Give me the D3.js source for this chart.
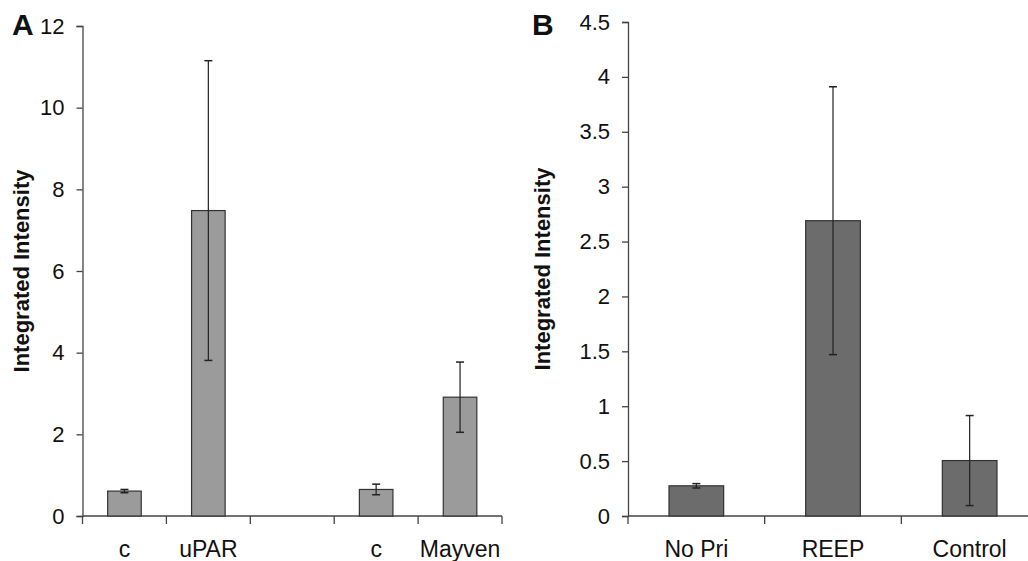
<!DOCTYPE html>
<html><head><meta charset="utf-8">
<script src="https://cdn.jsdelivr.net/npm/d3@7"></script>
<style>body{margin:0;background:#fff}svg{display:block;font-family:"Liberation Sans",Arial,sans-serif}</style>
</head><body><svg id="c" width="1028" height="561"></svg>
<script>
// Panel A data
const catsA = ["c1", "uPAR", "gap", "c2", "Mayven"];
const labelsA = ["c", "uPAR", "", "c", "Mayven"];
const valuesA = [0.61, 7.48, null, 0.65, 2.91];
const errorsA = [0.04, 3.67, null, 0.13, 0.86];
const ticksA = [0, 2, 4, 6, 8, 10, 12];
// Panel B data
const catsB = ["No Pri", "REEP", "Control"];
const valuesB = [0.275, 2.69, 0.505];
const errorsB = [0.02, 1.22, 0.41];
const ticksB = [0, 0.5, 1, 1.5, 2, 2.5, 3, 3.5, 4, 4.5];

const svg = d3.select("#c");

function panel(o){
  const g = svg.append("g");
  const x = d3.scaleBand().domain(o.cats).range([o.x0, o.x1]).paddingInner(0).paddingOuter(0);
  const y = d3.scaleLinear().domain([0, o.ymax]).range([o.y0, o.y1]);
  const bw = x.bandwidth()*0.4;
  // y axis
  const ya = g.append("g").attr("transform",`translate(${o.x0},0)`)
    .call(d3.axisLeft(y).tickValues(o.ticks).tickSize(6).tickPadding(12).tickFormat(d=>String(d)));
  ya.select(".domain").attr("stroke","#444").attr("stroke-width",1.3);
  ya.selectAll(".tick line").attr("stroke","#444").attr("stroke-width",1.3);
  ya.selectAll("text").attr("font-size",22).attr("fill","#111").attr("font-family","Liberation Sans, Arial, sans-serif");
  // x axis
  const xa = g.append("g").attr("transform",`translate(0,${o.y0})`);
  xa.append("line").attr("x1",o.x0).attr("x2",o.x1).attr("y1",0).attr("y2",0).attr("stroke","#444").attr("stroke-width",1.3);
  const edges = o.cats.map(c=>x(c)).concat([o.x1]);
  xa.selectAll("line.t").data(edges).enter().append("line").attr("class","t")
    .attr("x1",d=>d).attr("x2",d=>d).attr("y1",0).attr("y2",8).attr("stroke","#444").attr("stroke-width",1.3);
  xa.selectAll("text").data(o.cats).enter().append("text")
    .attr("x",d=>x(d)+x.bandwidth()/2).attr("y",41).attr("text-anchor","middle")
    .attr("font-size",23).attr("fill","#111").text((d,i)=>o.labels[i]);
  // bars
  const data = o.cats.map((c,i)=>({c,v:o.values[i],e:o.errors[i]})).filter(d=>d.v!=null);
  g.selectAll("rect.bar").data(data).enter().append("rect").attr("class","bar")
    .attr("x",d=>x(d.c)+x.bandwidth()/2-bw/2).attr("width",bw)
    .attr("y",d=>y(d.v)).attr("height",d=>o.y0-y(d.v))
    .attr("fill",o.fill).attr("stroke","#333").attr("stroke-width",1.2);
  // error bars
  const eb = g.selectAll("g.eb").data(data).enter().append("g").attr("class","eb");
  eb.append("line").attr("x1",d=>x(d.c)+x.bandwidth()/2).attr("x2",d=>x(d.c)+x.bandwidth()/2)
    .attr("y1",d=>y(d.v+d.e)).attr("y2",d=>y(d.v-d.e)).attr("stroke","#222").attr("stroke-width",1.2);
  [1,-1].forEach(s=>{
    eb.append("line").attr("x1",d=>x(d.c)+x.bandwidth()/2-4).attr("x2",d=>x(d.c)+x.bandwidth()/2+4)
      .attr("y1",d=>y(d.v+s*d.e)).attr("y2",d=>y(d.v+s*d.e)).attr("stroke","#222").attr("stroke-width",1.5);
  });
  // y label
  svg.append("text").attr("transform",`translate(${o.lx},${(o.y0+o.y1)/2}) rotate(-90)`)
    .attr("text-anchor","middle").attr("font-size",22).attr("font-weight","bold").attr("fill","#111")
    .text("Integrated Intensity");
  // panel letter
  svg.append("text").attr("x",o.px).attr("y",35).attr("font-size",30).attr("font-weight","bold").attr("fill","#111").text(o.letter);
}

panel({cats:catsA, labels:labelsA, values:valuesA, errors:errorsA, ticks:ticksA, ymax:12,
  x0:82.5, x1:502, y0:516, y1:26, fill:"#9b9b9b", lx:29, px:12, letter:"A"});
panel({cats:catsB, labels:catsB, values:valuesB, errors:errorsB, ticks:ticksB, ymax:4.5,
  x0:628, x1:1038, y0:516, y1:22, fill:"#6c6c6c", lx:550, px:532, letter:"B"});
</script></body></html>
